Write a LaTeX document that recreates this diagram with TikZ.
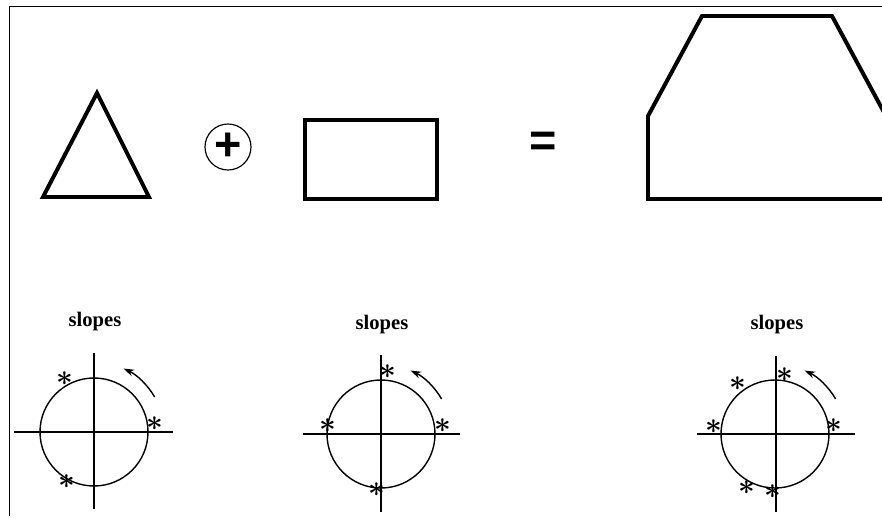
\documentclass[tikz,border=0pt]{standalone}
\usepackage{fontspec}
\setmainfont{Liberation Serif}
\newfontfamily\symfont{Liberation Sans}
\usetikzlibrary{positioning,arrows.meta}

\begin{document}
\begin{tikzpicture}[x=0.03cm,y=0.03cm, every node/.style={inner sep=0pt},
  outline/.style={line width=3.4pt,line join=miter},
  wheel/.style={draw,circle,line width=1.2pt,minimum size=3.24cm},
  axisline/.style={line width=1pt},
  turn/.style={line width=1.2pt,-{Stealth[length=9pt,width=6pt]}},
  star/.style={font=\fontsize{23}{26}\selectfont\boldmath},
  title/.style={font=\fontsize{17.6}{20}\selectfont\bfseries}]
\useasboundingbox (0,0) rectangle (882,518);
% frame
\draw[line width=0.8pt] (882,512) -- (9,512) -- (9,2);
% top row: triangle + rectangle = polygon
\draw[outline] (97,425) -- (149,321) -- (43,321) -- cycle;
\node[draw,circle,line width=1pt,minimum size=1.38cm,font=\symfont\bfseries\fontsize{40}{40}\selectfont] (plus) at (228,371) {+};
\draw[outline] (305,319) rectangle (437,398);
\node[anchor=base,font=\symfont\bfseries\fontsize{40}{40}\selectfont] (equals) at (543.5,362) {=};
\draw[outline] (648,319) -- (648,402) -- (702,502) -- (832,502) -- (886,402) -- (886,319) -- cycle;
% slope diagrams
\node[wheel] (c1) at (94,86) {};
\node[wheel] (c2) at (381,84) {};
\node[wheel] (c3) at (775,84) {};
\node[title] (t1) at (95,196) {slopes};
\node[title] (t2) at (382,193) {slopes};
\node[title] (t3) at (777,193) {slopes};
\draw[axisline] (14,86) -- (173,86) (94,165) -- (94,9);
\draw[axisline] (303,84) -- (460,84) (381,163) -- (381,6);
\draw[axisline] (697,84) -- (855,84) (776,162) -- (776,6);
\foreach \c in {c1,c2,c3}{\draw[turn] ([shift={(30:70)}]\c.center) arc (30:65:70);}
% edge directions
\foreach \p [count=\i] in {(65,139),(155,94),(67,36)} \node[star] (s1\i) at \p {$\ast$};
\foreach \p [count=\i] in {(388,146),(443,92),(328,92),(377,28)} \node[star] (s2\i) at \p {$\ast$};
\foreach \p [count=\i] in {(785,143),(738,134),(714,91),(834,92),(747,30),(773,26)} \node[star] (s3\i) at \p {$\ast$};
\end{tikzpicture}
\end{document}
